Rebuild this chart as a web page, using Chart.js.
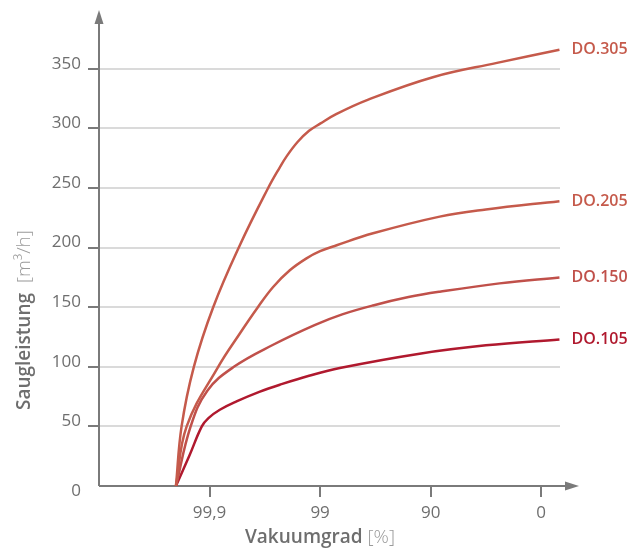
<!DOCTYPE html>
<html>
<head>
<meta charset="utf-8">
<script src="https://cdn.jsdelivr.net/npm/chart.js@4.4.0/dist/chart.umd.min.js"></script>
<style>
html, body { margin: 0; padding: 0; background: #fff; }
</style>
</head>
<body>
<canvas id="chart1" width="639" height="552"></canvas>
<script>
// x positions: 1 = 99,9 %, 2 = 99 %, 3 = 90 %, 4 = 0 % (log scale of residual pressure)
const xTickPos = [1, 2, 3, 4];
const xTickLabels = ["99,9", "99", "90", "0"];
const yTickValues = [0, 50, 100, 150, 200, 250, 300, 350];

const seriesNames = ["DO.305", "DO.205", "DO.150", "DO.105"];
const seriesColors = ["#c55a4b", "#c55a4b", "#c0504a", "#b0192e"];

// [vacuum position, Saugleistung m³/h]
const do305 = [[0.696, 0], [0.747, 50], [0.858, 100], [1.033, 150], [1.274, 202],
               [1.53, 250], [1.633, 267], [1.7, 277], [1.8, 289], [1.9, 298], [2.0, 304],
               [2.145, 312], [2.43, 324], [3.02, 343], [3.6, 355], [4.165, 366]];
const do205 = [[0.696, 0], [0.793, 50], [1.078, 100], [1.274, 128], [1.437, 150],
               [1.575, 167], [1.726, 181], [1.877, 191], [2.0, 197], [2.15, 202], [2.479, 212],
               [3.082, 226], [3.5, 232], [4.165, 239]];
const do150 = [[0.696, 0], [0.829, 50], [0.98, 80], [1.22, 100], [1.575, 118.5],
               [1.95, 135], [2.2, 144], [2.479, 151.5], [2.8, 158.5], [3.082, 163],
               [3.623, 170], [4.165, 175]];
const do105 = [[0.696, 0], [0.82, 26], [0.93, 50], [0.99, 57], [1.093, 64], [1.244, 71],
               [1.45, 79], [1.636, 85], [1.9, 92.5], [2.178, 99], [2.9, 111], [3.5, 118], [4.165, 123]];

const allSeries = [do305, do205, do150, do105];

const axisColor = "#7a7a7a";
const textColor = "#6e6e6e";
const fontFamily = "'Open Sans', sans-serif";

const axesPlugin = {
    id: "axes",
    beforeDatasetsDraw(chart) {
        const ctx = chart.ctx;
        const xs = chart.scales.x, ys = chart.scales.y;
        const x0 = xs.left, y0 = ys.getPixelForValue(0);
        ctx.save();
        ctx.strokeStyle = axisColor;
        ctx.fillStyle = axisColor;
        ctx.lineWidth = 2;
        ctx.beginPath();
        ctx.moveTo(x0, y0);
        ctx.lineTo(x0, 22);
        ctx.moveTo(x0, y0);
        ctx.lineTo(568, y0);
        ctx.stroke();
        // arrow heads
        ctx.beginPath();
        ctx.moveTo(x0, 10);
        ctx.lineTo(x0 - 4.5, 24);
        ctx.lineTo(x0 + 4.5, 24);
        ctx.closePath();
        ctx.fill();
        ctx.beginPath();
        ctx.moveTo(579, y0);
        ctx.lineTo(565, y0 - 4.5);
        ctx.lineTo(565, y0 + 4.5);
        ctx.closePath();
        ctx.fill();
        ctx.restore();
    },
    afterDraw(chart) {
        const ctx = chart.ctx;
        ctx.save();
        // series labels at line ends
        ctx.font = "600 16px " + fontFamily;
        ctx.textBaseline = "middle";
        ctx.textAlign = "left";
        chart.data.datasets.forEach((ds, i) => {
            const pts = chart.getDatasetMeta(i).data;
            const last = pts[pts.length - 1];
            ctx.fillStyle = ds.borderColor;
            ctx.fillText(ds.label, last.x + 12, last.y);
        });

        // x axis title
        ctx.font = "600 19px " + fontFamily;
        const t1 = "Vakuumgrad ";
        const w1 = ctx.measureText(t1).width;
        ctx.font = "300 19px " + fontFamily;
        const t2 = "[%]";
        const w2 = ctx.measureText(t2).width;
        const sx = 320 - (w1 + w2) / 2;
        ctx.fillStyle = textColor;
        ctx.font = "600 19px " + fontFamily;
        ctx.fillText(t1, sx, 538);
        ctx.fillStyle = "#9a9a9a";
        ctx.font = "300 19px " + fontFamily;
        ctx.fillText(t2, sx + w1, 538);

        // y axis title
        ctx.translate(25, 410);
        ctx.rotate(-Math.PI / 2);
        ctx.font = "600 19px " + fontFamily;
        const y1 = "Saugleistung  ";
        const wy1 = ctx.measureText(y1).width;
        ctx.fillStyle = textColor;
        ctx.fillText(y1, 0, 0);
        ctx.fillStyle = "#9a9a9a";
        ctx.font = "300 19px " + fontFamily;
        ctx.fillText("[m³/h]", wy1, 0);
        ctx.restore();
    }
};

const chart1 = document.getElementById("chart1");

const vacuumChart = new Chart(chart1, {
    type: "line",
    data: {
        datasets: allSeries.map((s, i) => ({
            label: seriesNames[i],
            data: s.map(p => ({ x: p[0], y: p[1] })),
            borderColor: seriesColors[i],
            borderWidth: 2.5,
            pointRadius: 0,
            fill: false,
            tension: 0.4
        }))
    },
    options: {
        responsive: false,
        animation: false,
        layout: { padding: { left: 0, top: 45, right: 79, bottom: 0 } },
        plugins: {
            legend: { display: false },
            tooltip: { enabled: false }
        },
        scales: {
            x: {
                type: "linear",
                min: 0,
                max: 4.17,
                afterBuildTicks: scale => { scale.ticks = xTickPos.map(v => ({ value: v })); },
                afterFit: scale => { scale.height = 66; },
                border: { display: false },
                grid: {
                    drawOnChartArea: false,
                    tickLength: 11,
                    tickColor: axisColor,
                    lineWidth: 2
                },
                ticks: {
                    padding: 6,
                    color: textColor,
                    font: { family: fontFamily, size: 17 },
                    callback: v => xTickLabels[xTickPos.indexOf(v)]
                }
            },
            y: {
                min: 0,
                max: 370,
                afterBuildTicks: scale => { scale.ticks = yTickValues.map(v => ({ value: v })); },
                afterFit: scale => { scale.width = 99; },
                border: { display: false },
                grid: {
                    color: ctx => ctx.tick && ctx.tick.value === 0 ? "rgba(0,0,0,0)" : "#dadada",
                    tickColor: ctx => ctx.tick && ctx.tick.value === 0 ? "rgba(0,0,0,0)" : axisColor,
                    tickLength: 11,
                    lineWidth: 2
                },
                ticks: {
                    padding: 7,
                    labelOffset: -5,
                    color: textColor,
                    font: { family: fontFamily, size: 17 },
                    callback: v => v === 0 ? ["", "0"] : String(v)
                }
            }
        }
    },
    plugins: [axesPlugin]
});
</script>
</body>
</html>
